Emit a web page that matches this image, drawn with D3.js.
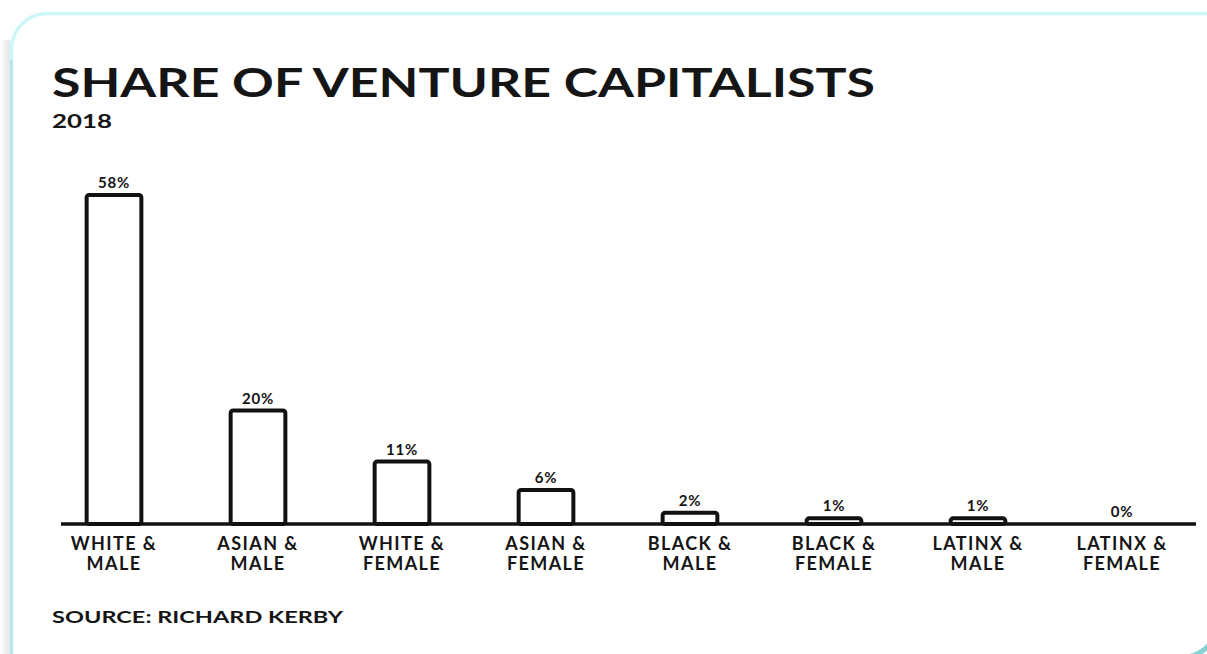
<!DOCTYPE html>
<html><head><meta charset="utf-8">
<script src="https://cdn.jsdelivr.net/npm/d3@7"></script>
<style>
html,body{margin:0;padding:0;background:#fff;}
svg{display:block;}
text{font-family:"Lato","Open Sans",sans-serif;fill:#151515;}
</style></head>
<body>
<script>
const categoriesLine1 = ["WHITE &","ASIAN &","WHITE &","ASIAN &","BLACK &","BLACK &","LATINX &","LATINX &"];
const categoriesLine2 = ["MALE","MALE","FEMALE","FEMALE","MALE","FEMALE","MALE","FEMALE"];
const categories = categoriesLine1.map((d,i)=>d+" "+categoriesLine2[i]);
const values = [58,20,11,6,2,1,1,0];
const valueLabels = ["58%","20%","11%","6%","2%","1%","1%","0%"];
const title = "SHARE OF VENTURE CAPITALISTS";
const subtitle = "2018";
const source = "SOURCE: RICHARD KERBY";

const W=1207,H=654;
const svg=d3.select("body").append("svg").attr("width",W).attr("height",H);

// frame: soft shadow + light cyan border, open to the right and bottom
const defs=svg.append("defs");
const lg=defs.append("linearGradient").attr("id","sh").attr("x1","0").attr("x2","1");
lg.append("stop").attr("offset","0").attr("stop-color","#ffffff");
lg.append("stop").attr("offset","1").attr("stop-color","#e6e6e6");
svg.append("rect").attr("x",0).attr("y",40).attr("width",10).attr("height",H-40).attr("fill","url(#sh)");
svg.append("path").attr("d","M11.5,660 L11.5,49.5 A36,36 0 0 1 47.5,13.5 L1230,13.5")
  .attr("fill","none").attr("stroke","#cdf6f9").attr("stroke-width",3.5);
svg.append("path").attr("d","M11.5,660 L11.5,60").attr("fill","none").attr("stroke","#b6e6e8").attr("stroke-width",3);
svg.append("path").attr("d","M1186,657 A36,36 0 0 0 1212,641")
  .attr("fill","none").attr("stroke","#86d2d5").attr("stroke-width",5);

const x=d3.scaleBand().domain(categories).range([42,1194]).paddingInner(0.62).paddingOuter(0.31);
const y=d3.scaleLinear().domain([0,58]).range([524,195]);

svg.append("text").attr("x",52).attr("y",97).attr("font-size",41).attr("font-weight",700)
  .attr("textLength",823).attr("lengthAdjust","spacingAndGlyphs").text(title);
svg.append("text").attr("x",52).attr("y",128).attr("font-size",18).attr("font-weight",700)
  .attr("textLength",60).attr("lengthAdjust","spacingAndGlyphs").text(subtitle);

const g=svg.append("g");
g.selectAll("rect.bar").data(values.map((v,i)=>({v,c:categories[i]})).filter(d=>d.v>0))
  .join("rect").attr("class","bar")
  .attr("x",d=>x(d.c)).attr("width",x.bandwidth())
  .attr("y",d=>y(d.v)).attr("height",d=>y(0)-y(d.v))
  .attr("rx",2.5).attr("fill","#fff").attr("stroke","#111").attr("stroke-width",4);

// axis baseline
svg.append("line").attr("x1",61).attr("x2",1196).attr("y1",y(0)).attr("y2",y(0))
  .attr("stroke","#111").attr("stroke-width",3.5);

g.selectAll("text.val").data(values).join("text").attr("class","val")
  .attr("x",(d,i)=>x(categories[i])+x.bandwidth()/2).attr("y",d=>y(d)-7)
  .attr("text-anchor","middle").attr("font-size",15).attr("font-weight",700).attr("letter-spacing",0.8)
  .text((d,i)=>valueLabels[i]);

const lab=g.selectAll("g.lab").data(categories).join("g").attr("class","lab")
  .attr("transform",d=>`translate(${x(d)+x.bandwidth()/2},0)`);
lab.append("text").attr("y",550).attr("text-anchor","middle").attr("font-size",18).attr("font-weight",700)
  .attr("letter-spacing",1.4).text((d,i)=>categoriesLine1[i]);
lab.append("text").attr("y",570).attr("text-anchor","middle").attr("font-size",18).attr("font-weight",700)
  .attr("letter-spacing",1.4).text((d,i)=>categoriesLine2[i]);

svg.append("text").attr("x",52).attr("y",623).attr("font-size",17).attr("font-weight",700)
  .attr("textLength",291).attr("lengthAdjust","spacingAndGlyphs").text(source);
</script>
</body></html>
